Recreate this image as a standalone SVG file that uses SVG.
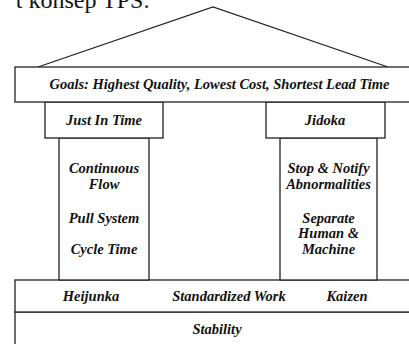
<svg xmlns="http://www.w3.org/2000/svg" width="409" height="344" viewBox="0 0 409 344">
<style>
.box{fill:#fff;stroke:#222;stroke-width:1.3}
.ln{fill:none;stroke:#222;stroke-width:1.3}
.t{font-family:"Liberation Serif","Times New Roman",serif;font-weight:bold;font-style:italic;font-size:14.5px;fill:#111;text-anchor:middle}
.h{font-family:"Liberation Serif","Times New Roman",serif;font-size:24px;fill:#111}
</style>
<rect width="409" height="344" fill="#fff"/>
<text class="h" x="150" y="8" text-anchor="end">t konsep TPS:</text>
<g id="connectors">
<polyline class="ln" points="38,67 213,7 388,67"/>
</g>
<g id="stability">
<rect class="box" x="15" y="312" width="400" height="40"/>
<text class="t" x="217" y="334">Stability</text>
</g>
<g id="base">
<rect class="box" x="15" y="280" width="400" height="32"/>
<text class="t" x="91" y="301">Heijunka</text>
<text class="t" x="229" y="301">Standardized Work</text>
<text class="t" x="347" y="301">Kaizen</text>
</g>
<g id="pillar-left">
<rect class="box" x="59" y="138" width="90" height="142"/>
<text class="t" x="104" y="173">Continuous</text>
<text class="t" x="104" y="188.5">Flow</text>
<text class="t" x="104" y="222.5">Pull System</text>
<text class="t" x="104" y="253.5">Cycle Time</text>
</g>
<g id="pillar-right">
<rect class="box" x="280" y="138" width="97" height="142"/>
<text class="t" x="328.5" y="173">Stop &amp; Notify</text>
<text class="t" x="328.5" y="188.5">Abnormalities</text>
<text class="t" x="328.5" y="222.5">Separate</text>
<text class="t" x="328.5" y="238">Human &amp;</text>
<text class="t" x="328.5" y="253.5">Machine</text>
</g>
<g id="jit">
<rect class="box" x="45" y="102" width="118" height="36"/>
<text class="t" x="104" y="124.5">Just In Time</text>
</g>
<g id="jidoka">
<rect class="box" x="266" y="102" width="119" height="36"/>
<text class="t" x="325" y="124.5">Jidoka</text>
</g>
<g id="goals">
<rect class="box" x="15" y="67" width="400" height="35"/>
<text class="t" x="219.5" y="89">Goals: Highest Quality, Lowest Cost, Shortest Lead Time</text>
</g>
</svg>
